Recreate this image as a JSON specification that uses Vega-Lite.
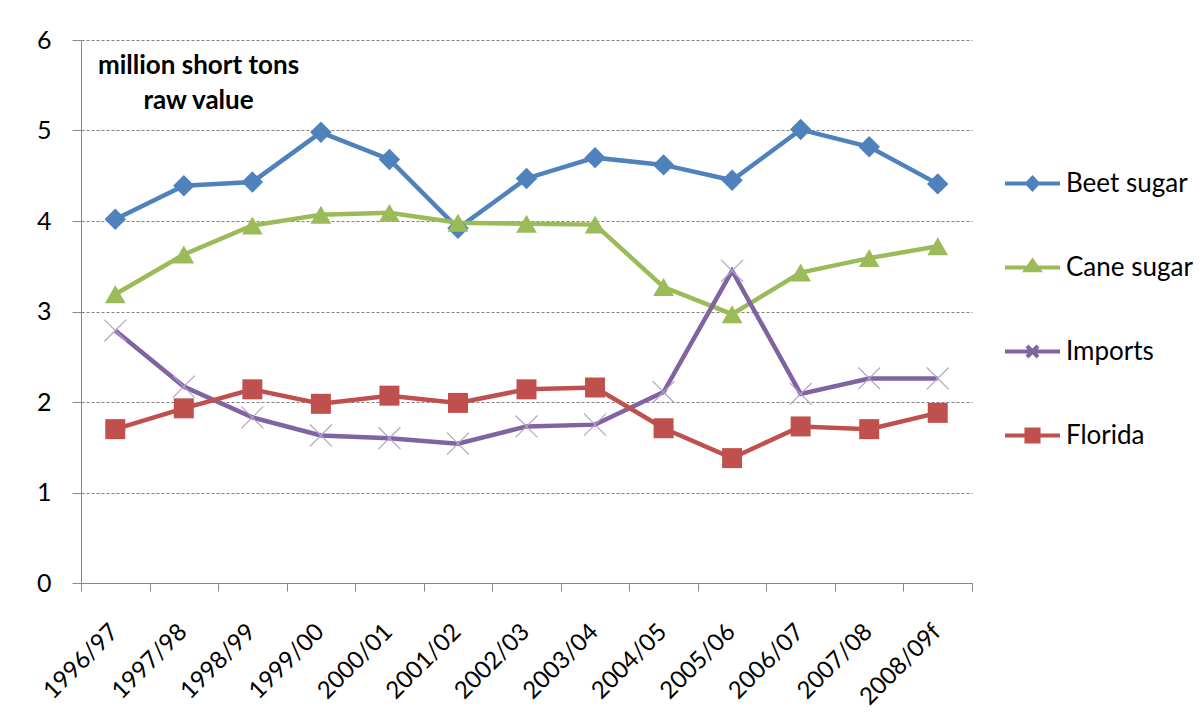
{
  "$schema": "https://vega.github.io/schema/vega-lite/v6.json",
  "width": 891,
  "height": 543,
  "autosize": "none",
  "padding": {"left": 81, "top": 40, "right": 230, "bottom": 144},
  "background": "white",
  "config": {"view": {"stroke": null}, "font": "Lato"},
  "data": {"values": [
    {"year": "1996/97", "series": "Beet sugar", "value": 4.02},
    {"year": "1997/98", "series": "Beet sugar", "value": 4.39},
    {"year": "1998/99", "series": "Beet sugar", "value": 4.43},
    {"year": "1999/00", "series": "Beet sugar", "value": 4.98},
    {"year": "2000/01", "series": "Beet sugar", "value": 4.68},
    {"year": "2001/02", "series": "Beet sugar", "value": 3.92},
    {"year": "2002/03", "series": "Beet sugar", "value": 4.47},
    {"year": "2003/04", "series": "Beet sugar", "value": 4.70},
    {"year": "2004/05", "series": "Beet sugar", "value": 4.62},
    {"year": "2005/06", "series": "Beet sugar", "value": 4.45},
    {"year": "2006/07", "series": "Beet sugar", "value": 5.01},
    {"year": "2007/08", "series": "Beet sugar", "value": 4.82},
    {"year": "2008/09f", "series": "Beet sugar", "value": 4.41},
    {"year": "1996/97", "series": "Cane sugar", "value": 3.19},
    {"year": "1997/98", "series": "Cane sugar", "value": 3.63},
    {"year": "1998/99", "series": "Cane sugar", "value": 3.95},
    {"year": "1999/00", "series": "Cane sugar", "value": 4.07},
    {"year": "2000/01", "series": "Cane sugar", "value": 4.09},
    {"year": "2001/02", "series": "Cane sugar", "value": 3.98},
    {"year": "2002/03", "series": "Cane sugar", "value": 3.97},
    {"year": "2003/04", "series": "Cane sugar", "value": 3.96},
    {"year": "2004/05", "series": "Cane sugar", "value": 3.27},
    {"year": "2005/06", "series": "Cane sugar", "value": 2.97},
    {"year": "2006/07", "series": "Cane sugar", "value": 3.43},
    {"year": "2007/08", "series": "Cane sugar", "value": 3.59},
    {"year": "2008/09f", "series": "Cane sugar", "value": 3.72},
    {"year": "1996/97", "series": "Imports", "value": 2.79},
    {"year": "1997/98", "series": "Imports", "value": 2.17},
    {"year": "1998/99", "series": "Imports", "value": 1.83},
    {"year": "1999/00", "series": "Imports", "value": 1.63},
    {"year": "2000/01", "series": "Imports", "value": 1.60},
    {"year": "2001/02", "series": "Imports", "value": 1.54},
    {"year": "2002/03", "series": "Imports", "value": 1.73},
    {"year": "2003/04", "series": "Imports", "value": 1.75},
    {"year": "2004/05", "series": "Imports", "value": 2.11},
    {"year": "2005/06", "series": "Imports", "value": 3.45},
    {"year": "2006/07", "series": "Imports", "value": 2.09},
    {"year": "2007/08", "series": "Imports", "value": 2.26},
    {"year": "2008/09f", "series": "Imports", "value": 2.26},
    {"year": "1996/97", "series": "Florida", "value": 1.70},
    {"year": "1997/98", "series": "Florida", "value": 1.93},
    {"year": "1998/99", "series": "Florida", "value": 2.14},
    {"year": "1999/00", "series": "Florida", "value": 1.98},
    {"year": "2000/01", "series": "Florida", "value": 2.07},
    {"year": "2001/02", "series": "Florida", "value": 1.99},
    {"year": "2002/03", "series": "Florida", "value": 2.14},
    {"year": "2003/04", "series": "Florida", "value": 2.16},
    {"year": "2004/05", "series": "Florida", "value": 1.71},
    {"year": "2005/06", "series": "Florida", "value": 1.38},
    {"year": "2006/07", "series": "Florida", "value": 1.73},
    {"year": "2007/08", "series": "Florida", "value": 1.70},
    {"year": "2008/09f", "series": "Florida", "value": 1.88}
  ]},
  "encoding": {
    "x": {
      "field": "year", "type": "ordinal", "sort": null,
      "scale": {"type": "band", "paddingInner": 0, "paddingOuter": 0},
      "axis": {
        "title": null, "tickBand": "extent", "labelAngle": -45,
        "labelAlign": "right", "labelBaseline": "middle",
        "labelFontSize": 24, "labelColor": "#000000", "labelPadding": 37, "labelOffset": -1,
        "domainColor": "#868686", "tickColor": "#868686", "tickSize": 8, "grid": false
      }
    },
    "y": {
      "field": "value", "type": "quantitative",
      "scale": {"domain": [0, 6], "nice": false},
      "axis": {
        "values": [0, 1, 2, 3, 4, 5, 6],
        "grid": true, "gridDash": [3, 2], "gridColor": "#808080", "gridWidth": 1,
        "domainColor": "#868686", "tickColor": "#868686", "tickSize": 9,
        "labelFontSize": 25, "labelColor": "#000000", "labelPadding": 21,
        "title": ["million short tons", "raw value"],
        "titleAngle": 0, "titleX": 117, "titleY": 33, "titleAlign": "center",
        "titleBaseline": "alphabetic", "titleFontSize": 26, "titleFontWeight": "bold",
        "titleLineHeight": 35, "titleColor": "#000000"
      }
    }
  },
  "layer": [
    {
      "mark": {"type": "point", "filled": true, "opacity": 0},
      "encoding": {
        "color": {
          "field": "series", "type": "nominal",
          "scale": {"domain": ["Beet sugar", "Cane sugar", "Imports", "Florida"],
                    "range": ["#4F81BD", "#9BBB59", "#8064A2", "#C0504D"]},
          "legend": {
            "title": null, "orient": "none", "legendX": 922, "legendY": 114,
            "labelFontSize": 26, "labelColor": "#000000", "labelOffset": 4,
            "symbolSize": 3025, "symbolStrokeWidth": 4, "symbolOpacity": 1,
            "rowPadding": 41, "padding": 0,
            "encode": {"symbols": {"update": {
              "fill": {"scale": "color", "field": "value"},
              "stroke": {"scale": "color", "field": "value"},
              "strokeWidth": {"value": 4},
              "opacity": {"value": 1}
            }}}
          }
        },
        "shape": {
          "field": "series", "type": "nominal",
          "scale": {"domain": ["Beet sugar", "Cane sugar", "Imports", "Florida"],
                    "range": [
                      "M-1,0L1,0M0,-0.2L0.19,0L0,0.2L-0.19,0Z",
                      "M-1,0L1,0M0,-0.24L0.24,0.1L-0.24,0.1Z",
                      "M-1,0L1,0M-0.2,-0.2L0.2,0.2M-0.2,0.2L0.2,-0.2",
                      "M-1,0L1,0M-0.22,-0.22L0.22,-0.22L0.22,0.22L-0.22,0.22Z"
                    ]}
        }
      }
    },
    {
      "mark": {"type": "line", "strokeWidth": 4.5},
      "encoding": {
        "color": {"field": "series", "type": "nominal"},
        "detail": {"field": "series"}
      }
    },
    {
      "transform": [{"filter": "datum.series === 'Imports'"}],
      "mark": {"type": "point", "shape": "M-1,-1L1,1M-1,1L1,-1", "filled": false,
               "stroke": "#B3A2C7", "strokeWidth": 1.2, "size": 480, "opacity": 1},
      "encoding": {}
    },
    {
      "transform": [{"filter": "datum.series === 'Beet sugar'"}],
      "mark": {"type": "point", "shape": "diamond", "filled": true, "opacity": 1, "size": 460},
      "encoding": {"color": {"field": "series", "type": "nominal"}}
    },
    {
      "transform": [{"filter": "datum.series === 'Cane sugar'"}],
      "mark": {"type": "point", "shape": "triangle-up", "filled": true, "opacity": 1, "size": 430},
      "encoding": {"color": {"field": "series", "type": "nominal"}}
    },
    {
      "transform": [{"filter": "datum.series === 'Florida'"}],
      "mark": {"type": "point", "shape": "square", "filled": true, "opacity": 1, "size": 400},
      "encoding": {"color": {"field": "series", "type": "nominal"}}
    }
  ]
}
